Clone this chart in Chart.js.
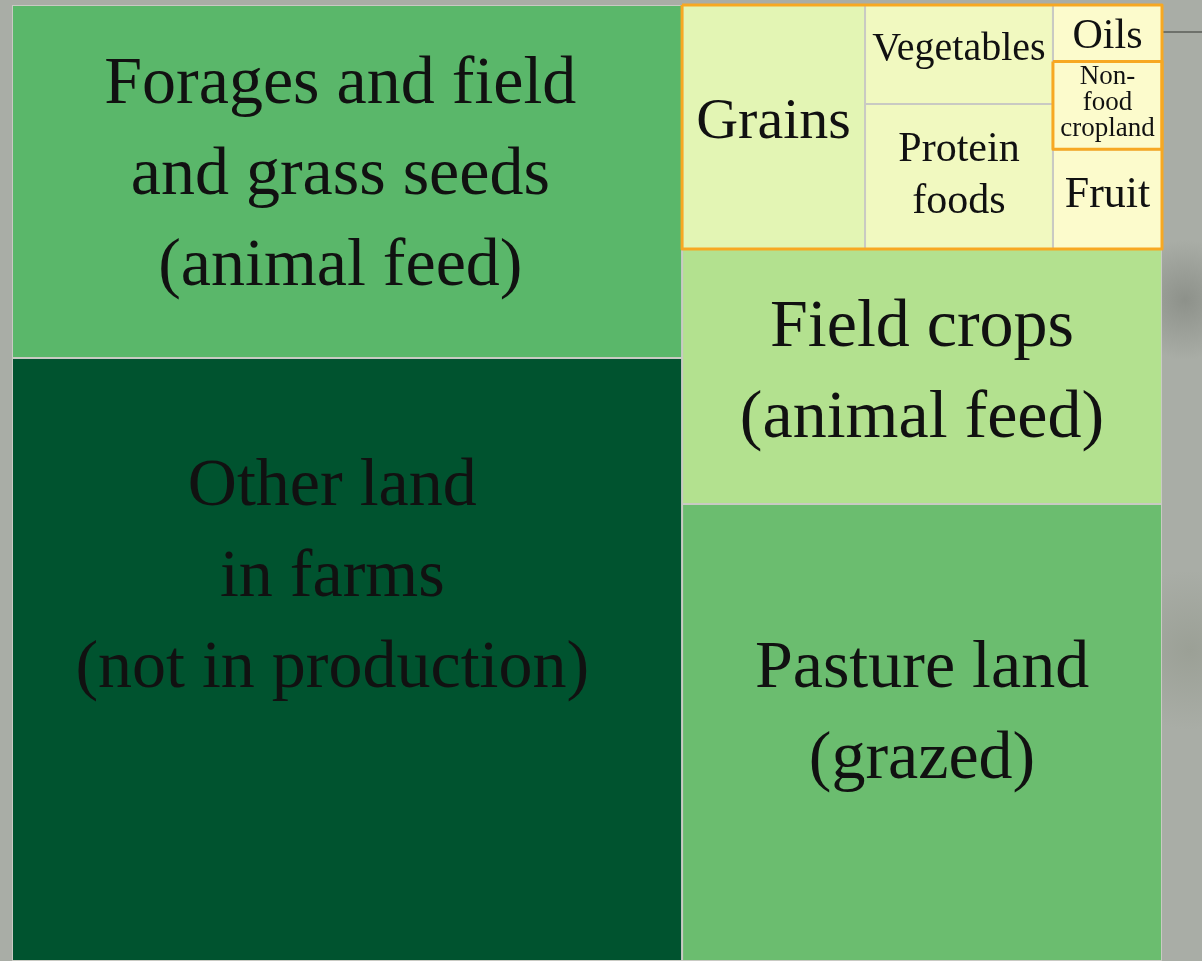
<!DOCTYPE html>
<html>
<head>
<meta charset="utf-8">
<script src="https://cdn.jsdelivr.net/npm/chart.js@4.4.1/dist/chart.umd.min.js"></script>
<style>
  html, body { margin: 0; padding: 0; width: 1202px; height: 961px; overflow: hidden; }
  body {
    background:
      linear-gradient(#6e716b, #6e716b) no-repeat 1162px 31px / 40px 2px,
      radial-gradient(circle at 1185px 300px, #8d918a 0, rgba(141,145,138,0) 60px),
      radial-gradient(circle at 1190px 650px, #9ba096 0, rgba(155,160,150,0) 80px),
      #a9ada6;
  }
  canvas { display: block; }
</style>
</head>
<body>
<canvas id="c" width="1202" height="961"></canvas>
<script>
// ---- data ----
const categories = [
  'Forages and field and grass seeds (animal feed)',
  'Other land in farms (not in production)',
  'Grains',
  'Vegetables',
  'Protein foods',
  'Oils',
  'Non-food cropland',
  'Fruit',
  'Field crops (animal feed)',
  'Pasture land (grazed)'
];
const labelLines = [
  ['Forages and field', 'and grass seeds', '(animal feed)'],
  ['Other land', 'in farms', '(not in production)'],
  ['Grains'],
  ['Vegetables'],
  ['Protein', 'foods'],
  ['Oils'],
  ['Non-', 'food', 'cropland'],
  ['Fruit'],
  ['Field crops', '(animal feed)'],
  ['Pasture land', '(grazed)']
];
// share of farm land, percent
const areaShare = [21.51, 36.75, 4.06, 1.69, 2.48, 0.56, 0.87, 0.99, 11.13, 19.95];

// treemap nesting (indices into categories)
const tree = { dir: 'row', children: [
  { dir: 'col', children: [0, 1] },
  { dir: 'col', children: [
    { dir: 'row', outline: true, children: [2, { dir: 'col', children: [3, 4] }, { dir: 'col', children: [5, 6, 7] }] },
    8, 9
  ] }
] };
const outlinedCells = [6];

// ---- styles ----
const cellColors = ['#5ab76a', '#00532f', '#e3f5b4', '#f1f9c0', '#f1f9c0', '#fcfbcc', '#fcfbcc', '#fcfbcc', '#b3e18f', '#6bbd6f'];
const labelStyle = [
  { size: 68, lh: 91, ax: 0.49, ay: 0.473 },
  { size: 68, lh: 91, ax: 0.478, ay: 0.357 },
  { size: 58, lh: 60, ax: 0.5, ay: 0.467 },
  { size: 40, lh: 44, ax: 0.5, ay: 0.42 },
  { size: 42, lh: 52, ax: 0.5, ay: 0.476 },
  { size: 42, lh: 44, ax: 0.5, ay: 0.51 },
  { size: 27, lh: 26, ax: 0.5, ay: 0.45 },
  { size: 44, lh: 44, ax: 0.5, ay: 0.43 },
  { size: 68, lh: 91, ax: 0.5, ay: 0.47 },
  { size: 68, lh: 91, ax: 0.5, ay: 0.45 }
];

// ---- layout from values ----
function nodeValue(n) {
  return typeof n === 'number' ? areaShare[n] : n.children.reduce((s, c) => s + nodeValue(c), 0);
}
const rects = [];
const outlineRects = [];
function layout(n, x0, y0, x1, y1) {
  if (typeof n === 'number') { rects[n] = { x0, y0, x1, y1 }; return; }
  if (n.outline) outlineRects.push({ x0, y0, x1, y1 });
  const total = nodeValue(n);
  let pos = n.dir === 'row' ? x0 : y0;
  n.children.forEach(c => {
    const f = nodeValue(c) / total;
    if (n.dir === 'row') { const w = (x1 - x0) * f; layout(c, pos, y0, pos + w, y1); pos += w; }
    else { const h = (y1 - y0) * f; layout(c, x0, pos, x1, pos + h); pos += h; }
  });
}
layout(tree, 0, 0, 100, 100);
outlinedCells.forEach(i => outlineRects.push(rects[i]));

function rectPoints(r) {
  return [{ x: r.x0, y: r.y0 }, { x: r.x1, y: r.y0 }, { x: r.x1, y: r.y1 }, { x: r.x0, y: r.y1 }, { x: r.x0, y: r.y0 }];
}

const datasets = [];
categories.forEach((name, i) => {
  datasets.push({
    label: name,
    data: rectPoints(rects[i]),
    fill: 'shape',
    backgroundColor: cellColors[i],
    borderColor: '#c9cac3',
    borderWidth: 2,
    pointRadius: 0,
    tension: 0,
    borderJoinStyle: 'miter',
    order: 2
  });
});
outlineRects.forEach(r => {
  datasets.push({
    label: 'outline',
    data: rectPoints(r),
    fill: false,
    borderColor: '#f7a822',
    borderWidth: 3,
    pointRadius: 0,
    tension: 0,
    borderJoinStyle: 'round',
    clip: false,
    order: 1
  });
});

const labelPlugin = {
  id: 'cellLabels',
  afterDatasetsDraw(chart) {
    const { ctx, scales: { x, y } } = chart;
    ctx.save();
    ctx.fillStyle = '#111111';
    ctx.textAlign = 'center';
    ctx.textBaseline = 'alphabetic';
    rects.forEach((r, i) => {
      const st = labelStyle[i];
      const px0 = x.getPixelForValue(r.x0), px1 = x.getPixelForValue(r.x1);
      const py0 = y.getPixelForValue(r.y0), py1 = y.getPixelForValue(r.y1);
      const left = Math.min(px0, px1), top = Math.min(py0, py1);
      const w = Math.abs(px1 - px0), h = Math.abs(py1 - py0);
      const cx = left + w * st.ax;
      const cy = top + h * st.ay;
      const cap = st.size * 0.66;
      const lines = labelLines[i];
      const block = cap + (lines.length - 1) * st.lh;
      const by = cy - block / 2 + cap;
      ctx.font = st.size + 'px "Liberation Serif", "DejaVu Serif", serif';
      lines.forEach((l, k) => ctx.fillText(l, cx, by + k * st.lh));
    });
    ctx.restore();
  }
};

new Chart(document.getElementById('c'), {
  type: 'line',
  data: { datasets },
  options: {
    responsive: false,
    animation: false,
    layout: { padding: { left: 12, right: 40, top: 5, bottom: 0 } },
    scales: {
      x: { type: 'linear', min: 0, max: 100, display: false },
      y: { type: 'linear', min: 0, max: 100, reverse: true, display: false }
    },
    plugins: { legend: { display: false }, tooltip: { enabled: false } },
    events: []
  },
  plugins: [labelPlugin]
});
</script>
</body>
</html>
